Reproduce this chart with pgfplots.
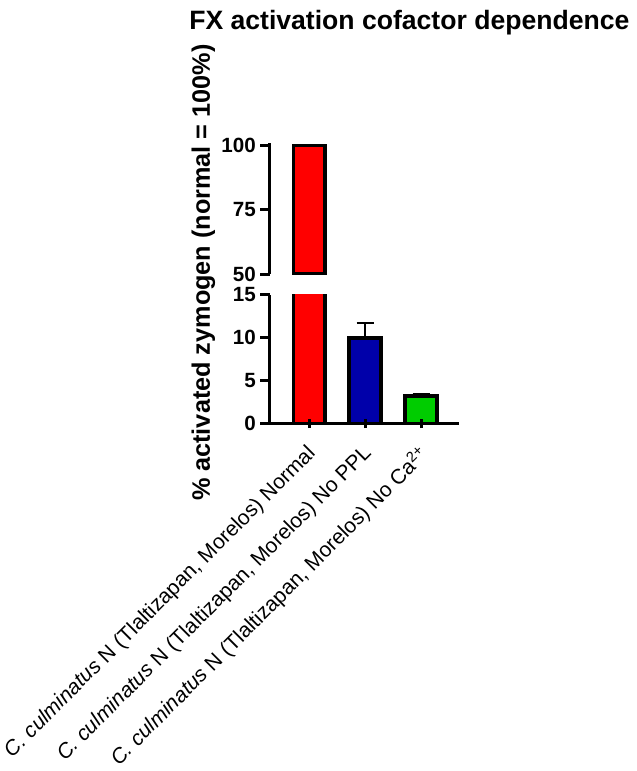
\documentclass[border=0pt]{standalone}
\usepackage{fontspec}
\setmainfont{Liberation Sans}
\usepackage{pgfplots}
\pgfplotsset{compat=1.18}

\definecolor{barred}{RGB}{255,0,0}
\definecolor{barblue}{RGB}{0,0,170}
\definecolor{bargreen}{RGB}{0,204,0}

\pgfplotsset{
  brk/.style={
    scale only axis,
    width=142.5pt,
    xmin=-0.71, xmax=2.68,
    axis y line=left,
    major tick style={black, line width=2.25pt},
    major tick length=7pt,
    tick align=outside,
    yticklabel style={font=\fontsize{15.5}{18}\selectfont\bfseries},
    /pgf/number format/assume math mode=true,
    ybar, bar width=24pt, bar shift=0pt,
    axis on top,
    clip=true,
  },
  barsty/.style={draw=black, line width=3pt},
  errsty/.style={error bars/.cd, y dir=plus, y explicit,
    error bar style={line width=1.5pt, black},
    error mark options={rotate=90, line width=1.5pt, black, mark size=6.5pt}},
}

\begin{document}
\begin{tikzpicture}
% lower segment 0-15
\begin{axis}[brk, at={(0pt,0pt)}, anchor=south west,
  height=96.75pt,
  ymin=0, ymax=15, ytick={0,5,10,15},
  axis x line=bottom,
  axis line style={-, line width=2.25pt},
  xtick={0,1,2},
  xticklabels={{\textit{C. culminatus} N (Tlaltizapan, Morelos) Normal},
               {\textit{C. culminatus} N (Tlaltizapan, Morelos) No PPL},
               {\textit{C. culminatus} N (Tlaltizapan, Morelos) No Ca\textsuperscript{2+}}},
  xticklabel style={xshift=-3pt, yshift=-10pt, rotate=45, anchor=north east, inner sep=1pt,
    font=\fontsize{15.8}{18}\selectfont},
]
\addplot[barsty, fill=barred] coordinates {(0,100)};
\addplot[barsty, fill=barblue, errsty] coordinates {(1,10) +- (0,1.7)};
\addplot[barsty, fill=bargreen, errsty] coordinates {(2,3.2) +- (0,0.3)};
\end{axis}
% upper segment 50-100
\begin{axis}[brk, at={(0pt,112.5pt)}, anchor=south west,
  height=98.3pt,
  ymin=50, ymax=100.8, ytick={50,75,100},
  axis line style={-, line width=2.25pt},
  axis x line=none, xtick=\empty,
]
\addplot[barsty, fill=barred] coordinates {(0,100)};
\end{axis}
\node[font=\fontsize{20}{24}\selectfont\bfseries] at (105pt,302pt) {FX activation cofactor dependence};
\node[rotate=90, font=\fontsize{19}{23}\selectfont\bfseries] at (-50pt,113.6pt) {\% activated zymogen (normal = 100\%)};
\path (-202.5pt,-259.5pt) rectangle (276pt,318.75pt);
\end{tikzpicture}
\end{document}
